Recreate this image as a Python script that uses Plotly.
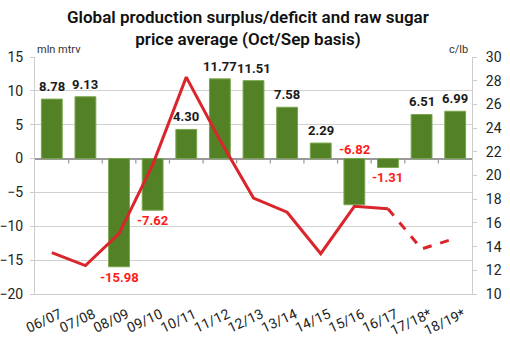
import plotly.graph_objects as go

categories = ["06/07", "07/08", "08/09", "09/10", "10/11", "11/12", "12/13",
              "13/14", "14/15", "15/16", "16/17", "17/18*", "18/19*"]
balance = [8.78, 9.13, -15.98, -7.62, 4.30, 11.77, 11.51, 7.58, 2.29, -6.82, -1.31, 6.51, 6.99]
price = [13.5, 12.4, 15.1, 20.9, 28.3, 23.0, 18.1, 16.9, 13.4, 17.4, 17.2, 13.8, 14.7]
n_actual = 11  # seasons with actual prices (solid line); rest forecast (dashed)

BAR = "#538226"
LINE = "#d9252b"
LBL_RED = "#ff1a1a"
FONT = "Roboto"

fig = go.Figure()
fig.add_trace(go.Bar(x=categories, y=balance, marker=dict(color=BAR, line=dict(color="#7aa64e", width=1)),
                     width=0.62, yaxis="y", hoverinfo="skip"))
fig.add_trace(go.Scatter(x=categories[:n_actual], y=price[:n_actual], mode="lines",
                         line=dict(color=LINE, width=3), yaxis="y2", hoverinfo="skip"))
fig.add_trace(go.Scatter(x=categories[n_actual - 1:], y=price[n_actual - 1:], mode="lines",
                         line=dict(color=LINE, width=3, dash="dash"), yaxis="y2", hoverinfo="skip"))

annotations = []
for i, (c, v) in enumerate(zip(categories, balance)):
    txt = f"{v:.2f}"
    if v >= 0:
        annotations.append(dict(x=c, y=v, xref="x", yref="y", text=f"<b>{txt}</b>", showarrow=False,
                                yanchor="bottom", yshift=3, font=dict(family=FONT, size=13, color="#1a1a1a")))
    elif c == "15/16":
        annotations.append(dict(x=c, y=0, xref="x", yref="y", text=f"<b>{txt}</b>", showarrow=False,
                                yanchor="bottom", yshift=0, font=dict(family=FONT, size=13, color=LBL_RED)))
    else:
        annotations.append(dict(x=c, y=v, xref="x", yref="y", text=f"<b>{txt}</b>", showarrow=False,
                                yanchor="top", yshift=-1, font=dict(family=FONT, size=13, color=LBL_RED)))

annotations.append(dict(x=0.5, y=1, xref="paper", yref="paper",
                        text="Global production surplus/deficit and raw sugar<br>price average (Oct/Sep basis)",
                        showarrow=False, xanchor="center", yanchor="bottom", yshift=6, xshift=-6,
                        font=dict(family=FONT, size=17, color="#111", weight=600)))
annotations.append(dict(x=0, y=1, xref="paper", yref="paper", text="mln mtrv", showarrow=False,
                        xanchor="left", yanchor="bottom", xshift=0, yshift=-1,
                        font=dict(family=FONT, size=11, color="#333")))
annotations.append(dict(x=1, y=1, xref="paper", yref="paper", text="c/lb", showarrow=False,
                        xanchor="right", yanchor="bottom", xshift=-2, yshift=-1,
                        font=dict(family=FONT, size=11, color="#333")))

shapes = []
for i in range(1, len(categories)):
    shapes.append(dict(type="line", xref="x", yref="y", x0=i - 0.5, x1=i - 0.5,
                       ysizemode="pixel", yanchor=0, y0=0, y1=-5,
                       line=dict(color="#999", width=1.2)))

fig.update_layout(
    width=510, height=343,
    margin=dict(l=35, r=38, t=57, b=49, autoexpand=False),
    paper_bgcolor="white", plot_bgcolor="white",
    showlegend=False,
    font=dict(family=FONT, size=13, color="#333"),
    bargap=0.38,
    xaxis=dict(type="category", tickangle=-25, showline=True, linecolor="#ccc", linewidth=1,
               ticks="", showgrid=False, tickfont=dict(size=14, color="#222"), automargin=False,
               ticklabelstandoff=6, ticklabelshift=8),
    yaxis=dict(range=[-20, 15], dtick=5, showgrid=True, gridcolor="#d0d0d0", gridwidth=1,
               zeroline=True, zerolinecolor="#999", zerolinewidth=1.5, automargin=False,
               showline=True, linecolor="#ccc", ticks="outside", ticklen=4, tickcolor="#ccc",
               ticklabelstandoff=4, tickfont=dict(size=14, color="#222")),
    yaxis2=dict(range=[10, 30], dtick=2, overlaying="y", side="right", showgrid=False,
                zeroline=False, showline=True, linecolor="#ccc", ticks="outside", ticklen=4,
                automargin=False,
                tickcolor="#ccc", ticklabelstandoff=6, tickfont=dict(size=14, color="#222")),
    annotations=annotations,
    shapes=shapes,
)

fig.write_html("out.html")
